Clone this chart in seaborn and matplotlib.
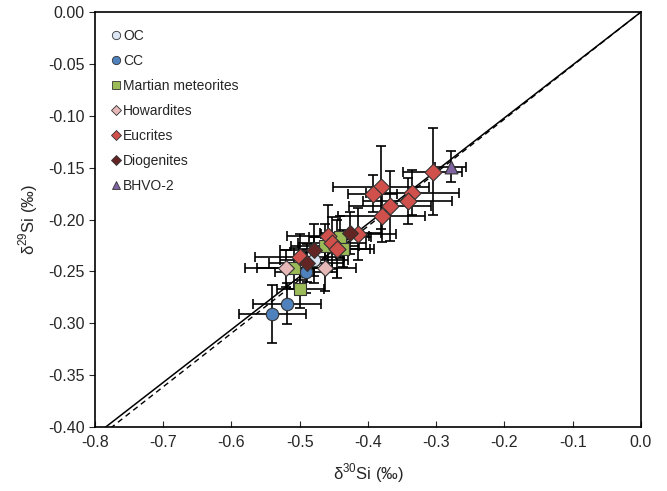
import numpy as np
import pandas as pd
import matplotlib
matplotlib.use('Agg')
import matplotlib.pyplot as plt
from matplotlib.lines import Line2D
import seaborn as sns

# ─── DATA ─────────────────────────────────────────────────────────────────────

groups = ['OC', 'CC', 'Martian meteorites', 'Howardites', 'Eucrites', 'Diogenites', 'BHVO-2']

oc_x = [-0.479]
oc_y = [-0.239]
oc_xe = [0.050]
oc_ye = [0.022]

cc_x = [-0.491, -0.519, -0.540]
cc_y = [-0.251, -0.281, -0.291]
cc_xe = [0.045, 0.050, 0.049]
cc_ye = [0.020, 0.020, 0.028]

mars_x = [-0.441, -0.463, -0.437, -0.508, -0.499]
mars_y = [-0.217, -0.226, -0.228, -0.247, -0.267]
mars_xe = [0.045, 0.050, 0.040, 0.055, 0.035]
mars_ye = [0.020, 0.022, 0.018, 0.020, 0.018]

how_x = [-0.520, -0.463]
how_y = [-0.247, -0.247]
how_xe = [0.060, 0.045]
how_ye = [0.018, 0.022]

euc_x = [-0.305, -0.381, -0.393, -0.335, -0.342, -0.368, -0.380,
         -0.414, -0.459, -0.453, -0.446, -0.500]
euc_y = [-0.154, -0.169, -0.175, -0.174, -0.182, -0.187, -0.197,
         -0.214, -0.216, -0.223, -0.228, -0.236]
euc_xe = [0.043, 0.070, 0.036, 0.068, 0.065, 0.060, 0.064,
          0.055, 0.060, 0.050, 0.055, 0.065]
euc_ye = [0.042, 0.040, 0.018, 0.022, 0.022, 0.034, 0.025,
          0.025, 0.030, 0.025, 0.028, 0.022]

dio_x = [-0.426, -0.479, -0.490]
dio_y = [-0.213, -0.229, -0.242]
dio_xe = [0.045, 0.050, 0.055]
dio_ye = [0.020, 0.025, 0.018]

bhvo_x = [-0.279]
bhvo_y = [-0.149]
bhvo_xe = [0.023]
bhvo_ye = [0.015]

# mass-dependent fractionation lines (kinetic / equilibrium)
slope_kin = 0.510
slope_eq = 0.516

x_ticks = [-0.8, -0.7, -0.6, -0.5, -0.4, -0.3, -0.2, -0.1, 0.0]
x_ticklabels = ['-0.8', '-0.7', '-0.6', '-0.5', '-0.4', '-0.3', '-0.2', '-0.1', '0.0']
y_ticks = [-0.40, -0.35, -0.30, -0.25, -0.20, -0.15, -0.10, -0.05, 0.00]
y_ticklabels = ['-0.40', '-0.35', '-0.30', '-0.25', '-0.20', '-0.15', '-0.10', '-0.05', '0.00']

# ─── TABLE ────────────────────────────────────────────────────────────────────

parts = [
    ('OC', oc_x, oc_y, oc_xe, oc_ye),
    ('CC', cc_x, cc_y, cc_xe, cc_ye),
    ('Martian meteorites', mars_x, mars_y, mars_xe, mars_ye),
    ('Howardites', how_x, how_y, how_xe, how_ye),
    ('Eucrites', euc_x, euc_y, euc_xe, euc_ye),
    ('Diogenites', dio_x, dio_y, dio_xe, dio_ye),
    ('BHVO-2', bhvo_x, bhvo_y, bhvo_xe, bhvo_ye),
]
df = pd.concat([
    pd.DataFrame({'group': g, 'd30': x, 'd29': y, 'xerr': xe, 'yerr': ye})
    for g, x, y, xe, ye in parts
], ignore_index=True)

palette = {
    'OC': '#dce6f2',
    'CC': '#4f81bd',
    'Martian meteorites': '#9bbb59',
    'Howardites': '#e6b9b8',
    'Eucrites': '#d0504c',
    'Diogenites': '#632523',
    'BHVO-2': '#8064a2',
}
markers = {
    'OC': 'o', 'CC': 'o', 'Martian meteorites': 's', 'Howardites': 'D',
    'Eucrites': 'D', 'Diogenites': 'D', 'BHVO-2': '^',
}
sizes = {
    'OC': 80, 'CC': 80, 'Martian meteorites': 70, 'Howardites': 65,
    'Eucrites': 75, 'Diogenites': 65, 'BHVO-2': 85,
}

# ─── PLOT ─────────────────────────────────────────────────────────────────────

sns.set_style('ticks')
plt.rcParams['font.family'] = ['Liberation Sans', 'DejaVu Sans']
plt.rcParams['mathtext.fontset'] = 'custom'
plt.rcParams['mathtext.rm'] = 'Liberation Sans'

fig, ax = plt.subplots(figsize=(6.67, 4.91), dpi=100)
fig.subplots_adjust(left=0.1424, right=0.961, bottom=0.1303, top=0.9756)

xx = np.array([-0.8, 0.0])
ax.plot(xx, slope_kin * xx, color='black', lw=1.1, zorder=1)
ax.plot(xx, slope_eq * xx, color='black', lw=1.0, ls=(0, (4, 3)), zorder=1)

ax.errorbar(df['d30'], df['d29'], xerr=df['xerr'], yerr=df['yerr'],
            fmt='none', ecolor='black', elinewidth=1.2, capsize=3.5,
            capthick=1.2, zorder=2)

for g in groups:
    sub = df[df['group'] == g]
    sns.scatterplot(data=sub, x='d30', y='d29', ax=ax, color=palette[g],
                    marker=markers[g], s=sizes[g], edgecolor='#333333',
                    linewidth=0.8, zorder=3, legend=False)

ax.set_xlim(-0.8, 0.0)
ax.set_ylim(-0.40, 0.0)
ax.set_xticks(x_ticks)
ax.set_xticklabels(x_ticklabels)
ax.set_yticks(y_ticks)
ax.set_yticklabels(y_ticklabels)
ax.tick_params(axis='x', direction='in', length=4, labelsize=11.5, pad=6)
ax.tick_params(axis='y', direction='out', length=4, labelsize=11.5)
for sp in ax.spines.values():
    sp.set_linewidth(1.2)
    sp.set_color('black')

ax.set_xlabel(r'δ$^{30}$Si (‰)', fontsize=12, labelpad=8)
ax.set_ylabel(r'δ$^{29}$Si (‰)', fontsize=12, labelpad=6)

handles = [
    Line2D([], [], ls='none', marker=markers[g], markerfacecolor=palette[g],
           markeredgecolor='#333333', markeredgewidth=0.6,
           markersize=6 if markers[g] != 'D' else 5, label=g)
    for g in groups
]
ax.legend(handles=handles, loc='upper left', bbox_to_anchor=(0.015, 0.98),
          frameon=False, fontsize=10, handlelength=0.7, handletextpad=0.15,
          labelspacing=0.8, borderaxespad=0.2)

fig.savefig('out.png', dpi=100)
